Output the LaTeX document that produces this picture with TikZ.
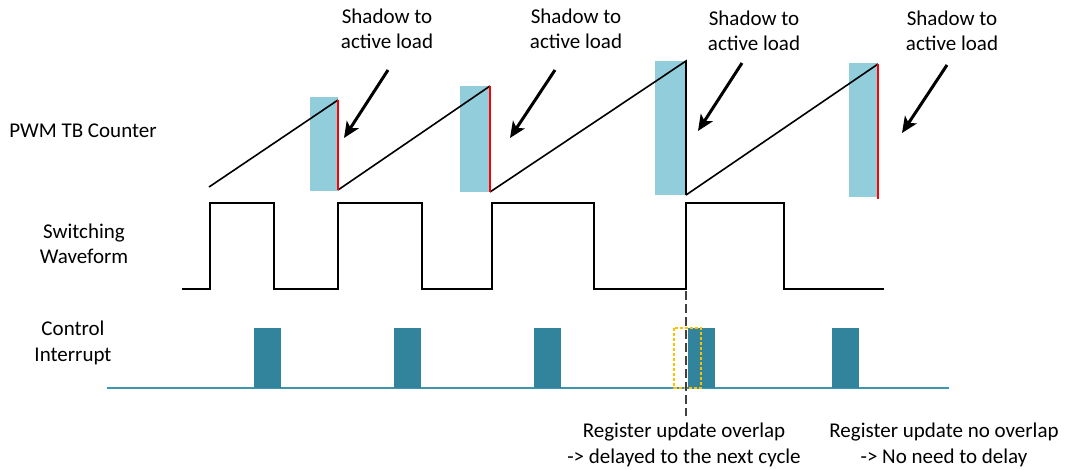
\documentclass[tikz,border=0pt]{standalone}
\usepackage{fontspec}
\setmainfont{Carlito}
\usetikzlibrary{arrows.meta}
\definecolor{shadowblue}{HTML}{92CDDC}
\definecolor{pulseteal}{HTML}{31849B}
\definecolor{baseteal}{HTML}{3C96AF}
\definecolor{ovlyellow}{HTML}{FFC000}
\definecolor{dashgray}{HTML}{404040}
\tikzset{
  lbl/.style={align=center, inner sep=0pt, font=\fontsize{21}{25.5}\selectfont},
  shadowbox/.style={fill=shadowblue, draw=none},
  ramp/.style={line width=1.6pt, black},
  load/.style={line width=1.8pt, red},
  wave/.style={line width=2pt, black, line join=miter},
  pulse/.style={fill=pulseteal, draw=none},
  callout/.style={line width=3pt, -{Stealth[length=16pt, width=14pt, inset=4pt]}},
}
\begin{document}
\begin{tikzpicture}[x=1pt, y=-1pt]
\useasboundingbox (0,0) rectangle (1065,469);

% shadow boxes
\fill[shadowblue] (310,97) rectangle (338,191);
\fill[shadowblue] (460,86) rectangle (491,192);
\fill[shadowblue] (655,61) rectangle (686,195);
\fill[shadowblue] (849,63) rectangle (878,197);

% counter
\draw[ramp] (209,187) -- (338,100);
\draw[ramp] (338,190) -- (490,86);
\draw[ramp] (490,192) -- (686,61) -- (686,195);
\draw[ramp] (686,195) -- (878,64);
\draw[load] (338,100) -- (338,190);
\draw[load] (490,86) -- (490,192);
\draw[load] (878,64) -- (878,199);

% switching waveform
\draw[wave] (182,289) -- (210,289) -- (210,203) -- (274,203) -- (274,289)
  -- (338,289) -- (338,203) -- (422,203) -- (422,289)
  -- (492,289) -- (492,203) -- (594,203) -- (594,289)
  -- (686,289) -- (686,203) -- (784,203) -- (784,289) -- (884,289);

% control interrupt
\draw[baseteal, line width=2.5pt] (107,388) -- (949,388);
\fill[pulseteal] (254,328) rectangle (281,388);
\fill[pulseteal] (394,328) rectangle (421,388);
\fill[pulseteal] (534,328) rectangle (561,388);
\fill[pulseteal] (688,328) rectangle (715,388);
\fill[pulseteal] (832,328) rectangle (859,388);
\draw[ovlyellow, line width=2pt, dash pattern=on 3pt off 2pt] (674,328) rectangle (701,388);
\draw[dashgray, line width=1.6pt, dash pattern=on 9pt off 4pt] (686,291) -- (686,416);

% labels
\node[lbl] (pwm) at (83,131) {PWM TB Counter};
\node[lbl] (sw) at (84,244) {Switching\\Waveform};
\node[lbl] (ci) at (73,343) {Control\\Interrupt};

\node[lbl] (s1) at (387,29) {Shadow to\\active load};
\node[lbl] (s2) at (576,29) {Shadow to\\active load};
\node[lbl] (s3) at (754,31) {Shadow to\\active load};
\node[lbl] (s4) at (952,31) {Shadow to\\active load};

\node[lbl] (r1) at (684,445) {Register update overlap\\-> delayed to the next cycle};
\node[lbl] (r2) at (944,445) {Register update no overlap\\-> No need to delay};

% callout arrows
\coordinate (a1s) at (388,70); \coordinate (a1e) at (344,138);
\coordinate (a2s) at (555,70); \coordinate (a2e) at (510,138);
\coordinate (a3s) at (742,63); \coordinate (a3e) at (698,131);
\coordinate (a4s) at (947,65); \coordinate (a4e) at (902,133);
\draw[callout] (a1s) -- (a1e);
\draw[callout] (a2s) -- (a2e);
\draw[callout] (a3s) -- (a3e);
\draw[callout] (a4s) -- (a4e);
\end{tikzpicture}
\end{document}
